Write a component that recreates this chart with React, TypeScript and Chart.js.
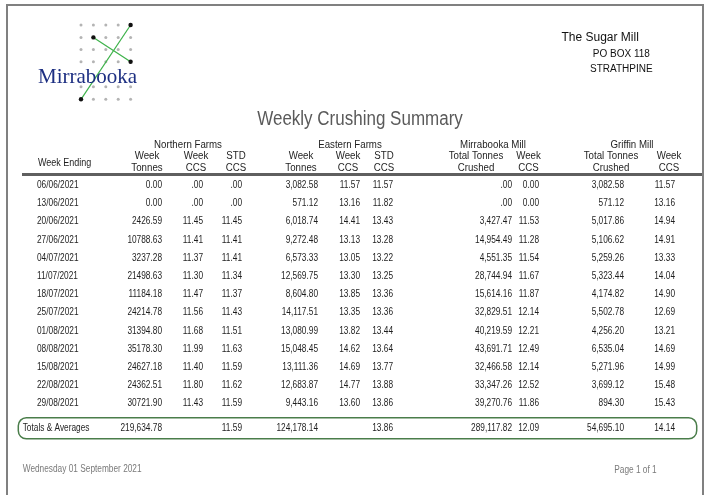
import React, { useEffect, useRef } from "react";
import { Chart, registerables } from "chart.js";

Chart.register(...registerables);

// ---------- data ----------
const weekEnding = [
  "06/06/2021", "13/06/2021", "20/06/2021", "27/06/2021", "04/07/2021", "11/07/2021",
  "18/07/2021", "25/07/2021", "01/08/2021", "08/08/2021", "15/08/2021", "22/08/2021", "29/08/2021",
];
const totalsLabel = "Totals & Averages";

const northernTonnes = [0, 0, 2426.59, 10788.63, 3237.28, 21498.63, 11184.18, 24214.78, 31394.8, 35178.3, 24627.18, 24362.51, 30721.9];
const northernWeekCCS = [0, 0, 11.45, 11.41, 11.37, 11.3, 11.47, 11.56, 11.68, 11.99, 11.4, 11.8, 11.43];
const northernStdCCS = [0, 0, 11.45, 11.41, 11.41, 11.34, 11.37, 11.43, 11.51, 11.63, 11.59, 11.62, 11.59];
const easternTonnes = [3082.58, 571.12, 6018.74, 9272.48, 6573.33, 12569.75, 8604.8, 14117.51, 13080.99, 15048.45, 13111.36, 12683.87, 9443.16];
const easternWeekCCS = [11.57, 13.16, 14.41, 13.13, 13.05, 13.3, 13.85, 13.35, 13.82, 14.62, 14.69, 14.77, 13.6];
const easternStdCCS = [11.57, 11.82, 13.43, 13.28, 13.22, 13.25, 13.36, 13.36, 13.44, 13.64, 13.77, 13.88, 13.86];
const millTonnes = [0, 0, 3427.47, 14954.49, 4551.35, 28744.94, 15614.16, 32829.51, 40219.59, 43691.71, 32466.58, 33347.26, 39270.76];
const millWeekCCS = [0, 0, 11.53, 11.28, 11.54, 11.67, 11.87, 12.14, 12.21, 12.49, 12.14, 12.52, 11.86];
const griffinTonnes = [3082.58, 571.12, 5017.86, 5106.62, 5259.26, 5323.44, 4174.82, 5502.78, 4256.2, 6535.04, 5271.96, 3699.12, 894.3];
const griffinWeekCCS = [11.57, 13.16, 14.94, 14.91, 13.33, 14.04, 14.9, 12.69, 13.21, 14.69, 14.99, 15.48, 15.43];

// totals & averages row (null = blank cell)
const northernTotals = [219634.78, null, 11.59];
const easternTotals = [124178.14, null, 13.86];
const millTotals = [289117.82, 12.09];
const griffinTotals = [54695.1, 14.14];

const groupNames = ["Northern Farms", "Eastern Farms", "Mirrabooka Mill", "Griffin Mill"];
const columnHeads = [
  ["Week", "Tonnes"], ["Week", "CCS"], ["STD", "CCS"],
  ["Week", "Tonnes"], ["Week", "CCS"], ["STD", "CCS"],
  ["Total Tonnes", "Crushed"], ["Week", "CCS"],
  ["Total Tonnes", "Crushed"], ["Week", "CCS"],
];

// ---------- layout (positions only) ----------
const W = 707;
const H = 495;
const ROW0 = 185.2;
const PITCH = 18.2;
const colRight = [162, 203, 242, 318, 360, 393, 512, 539, 624, 675];
const headCenter = [147, 196, 236, 301, 348, 384, 476, 528.5, 611, 669];
const groupCenter = [188, 350, 493, 632];

const FONT = '"Liberation Sans", Arial, Helvetica, sans-serif';
const SX = 0.83;
const INK = "#1e1e1e";

const fixed = (v: number) => v.toFixed(2);
const dotZero = (v: number) => (v === 0 ? ".00" : v.toFixed(2));
const comma = (v: number) => v.toLocaleString("en-US", { minimumFractionDigits: 2, maximumFractionDigits: 2 });
const commaDot = (v: number) => (v === 0 ? ".00" : comma(v));

const columns = [
  { values: northernTonnes, total: northernTotals[0], fmt: fixed, tfmt: comma },
  { values: northernWeekCCS, total: northernTotals[1], fmt: dotZero, tfmt: fixed },
  { values: northernStdCCS, total: northernTotals[2], fmt: dotZero, tfmt: fixed },
  { values: easternTonnes, total: easternTotals[0], fmt: comma, tfmt: comma },
  { values: easternWeekCCS, total: easternTotals[1], fmt: fixed, tfmt: fixed },
  { values: easternStdCCS, total: easternTotals[2], fmt: fixed, tfmt: fixed },
  { values: millTonnes, total: millTotals[0], fmt: commaDot, tfmt: comma },
  { values: millWeekCCS, total: millTotals[1], fmt: fixed, tfmt: fixed },
  { values: griffinTonnes, total: griffinTotals[0], fmt: comma, tfmt: comma },
  { values: griffinWeekCCS, total: griffinTotals[1], fmt: fixed, tfmt: fixed },
];

const rowLabels = [...weekEnding, totalsLabel];

function txt(
  ctx: CanvasRenderingContext2D, s: string, x: number, y: number,
  size: number, color: string, align: CanvasTextAlign = "left", sx = SX, family = FONT, weight = "normal"
) {
  ctx.save();
  ctx.translate(x, y);
  ctx.scale(sx, 1);
  ctx.font = `${weight} ${size}px ${family}`;
  ctx.fillStyle = color;
  ctx.textAlign = align;
  ctx.textBaseline = "middle";
  ctx.fillText(s, 0, 0);
  ctx.restore();
}

const reportPlugin = {
  id: "report",
  afterDraw(chart: any) {
    const ctx: CanvasRenderingContext2D = chart.ctx;
    const yScale = chart.scales.y;
    ctx.save();

    // page border
    ctx.strokeStyle = "#808080";
    ctx.lineWidth = 2;
    ctx.beginPath();
    ctx.moveTo(7, H + 2);
    ctx.lineTo(7, 5);
    ctx.lineTo(703, 5);
    ctx.lineTo(703, H + 2);
    ctx.stroke();

    // logo
    const dx = [81, 93.4, 105.8, 118.2, 130.6];
    const dy = [25, 37.4, 49.6, 61.8, 86.8, 99.3];
    ctx.fillStyle = "#b4b4b4";
    for (const yy of dy) for (const xx of dx) {
      ctx.beginPath(); ctx.arc(xx, yy, 1.5, 0, Math.PI * 2); ctx.fill();
    }
    ctx.strokeStyle = "#3db24a";
    ctx.lineWidth = 1.2;
    ctx.beginPath(); ctx.moveTo(130.6, 25); ctx.lineTo(81, 99.3); ctx.stroke();
    ctx.beginPath(); ctx.moveTo(93.4, 37.4); ctx.lineTo(130.6, 61.8); ctx.stroke();
    ctx.fillStyle = "#111";
    for (const [xx, yy] of [[130.6, 25], [93.4, 37.4], [130.6, 61.8], [81, 99.3]]) {
      ctx.beginPath(); ctx.arc(xx, yy, 2.2, 0, Math.PI * 2); ctx.fill();
    }
    ctx.save();
    ctx.font = '21px "Liberation Serif", "Times New Roman", serif';
    ctx.fillStyle = "#1d2f82";
    ctx.textBaseline = "alphabetic";
    ctx.textAlign = "left";
    ctx.fillText("Mirrabooka", 38, 82.5);
    ctx.restore();

    // address
    ctx.save();
    ctx.font = `12px ${FONT}`;
    ctx.fillStyle = "#111";
    ctx.textBaseline = "alphabetic";
    ctx.textAlign = "left";
    ctx.fillText("The Sugar Mill", 561.5, 40.5);
    ctx.font = `10px ${FONT}`;
    ctx.textAlign = "center";
    ctx.fillText("PO BOX 118", 621.3, 56.5);
    ctx.fillText("STRATHPINE", 621.3, 71.5);
    ctx.restore();

    // title
    txt(ctx, "Weekly Crushing Summary", 360, 119, 20, "#5a5a5a", "center", 0.85);

    // header
    groupNames.forEach((g, i) => txt(ctx, g, groupCenter[i], 145, 10, INK, "center", 0.97));
    txt(ctx, "Week Ending", 38, 163.3, 10, INK, "left", 0.9);
    columnHeads.forEach((h, i) => {
      txt(ctx, h[0], headCenter[i], 156.7, 10, INK, "center", 0.97);
      txt(ctx, h[1], headCenter[i], 168.3, 10, INK, "center", 0.97);
    });
    ctx.strokeStyle = "#5f5f5f";
    ctx.lineWidth = 3;
    ctx.beginPath(); ctx.moveTo(22, 174.5); ctx.lineTo(702, 174.5); ctx.stroke();

    // row labels (week ending) from the y scale
    const lastIdx = rowLabels.length - 1;
    const totalsOffset = 6.5;
    rowLabels.forEach((lab, i) => {
      const y = yScale.getPixelForValue(i);
      if (i === lastIdx) txt(ctx, lab, 22.7, y + totalsOffset, 10, INK, "left");
      else txt(ctx, lab, 37, y, 10, INK, "left");
    });

    // cells from dataset elements
    chart.data.datasets.forEach((ds: any, di: number) => {
      const meta = chart.getDatasetMeta(di);
      const col = columns[di];
      meta.data.forEach((el: any, j: number) => {
        const isTotal = j === lastIdx;
        const v = isTotal ? col.total : col.values[j];
        if (v === null || v === undefined) return;
        const s = isTotal ? col.tfmt(v as number) : col.fmt(v as number);
        txt(ctx, s, el.x, isTotal ? el.y + totalsOffset : el.y, 10, INK, "right");
      });
    });

    // totals box
    const ty = yScale.getPixelForValue(lastIdx) + totalsOffset;
    ctx.strokeStyle = "#4a7d4a";
    ctx.lineWidth = 1.5;
    ctx.beginPath();
    (ctx as any).roundRect(18.3, ty - 10.5, 678.4, 21, 8);
    ctx.stroke();

    // footer
    txt(ctx, "Wednesday 01 September 2021", 22.7, 469.5, 10, "#7a7a7a", "left");
    txt(ctx, "Page 1 of 1", 656.7, 470.5, 10, "#7a7a7a", "right");

    ctx.restore();
  },
};

export default function App() {
  const ref = useRef<HTMLCanvasElement | null>(null);
  useEffect(() => {
    if (!ref.current) return;
    const datasets = columns.map((c, ci) => ({
      label: `col${ci}`,
      data: rowLabels.map((lab) => ({ x: colRight[ci], y: lab })),
      pointRadius: 0,
      pointHoverRadius: 0,
      showLine: false,
    }));
    const lastY = ROW0 + PITCH * (rowLabels.length - 1);
    const chart = new Chart(ref.current, {
      type: "scatter",
      data: { labels: rowLabels, datasets },
      options: {
        animation: false,
        responsive: false,
        maintainAspectRatio: false,
        events: [],
        layout: { padding: { top: ROW0, bottom: H - lastY, left: 0, right: 0 } },
        plugins: { legend: { display: false }, tooltip: { enabled: false } },
        scales: {
          x: { type: "linear", min: 0, max: W, display: false },
          y: { type: "category", labels: rowLabels, offset: false, display: false },
        },
      },
      plugins: [reportPlugin],
    } as any);
    return () => chart.destroy();
  }, []);
  return (
    <div style={{ position: "absolute", left: 0, top: 0, width: W, height: H, background: "#fff" }}>
      <canvas ref={ref} width={W} height={H} style={{ width: W, height: H, display: "block" }} />
    </div>
  );
}
